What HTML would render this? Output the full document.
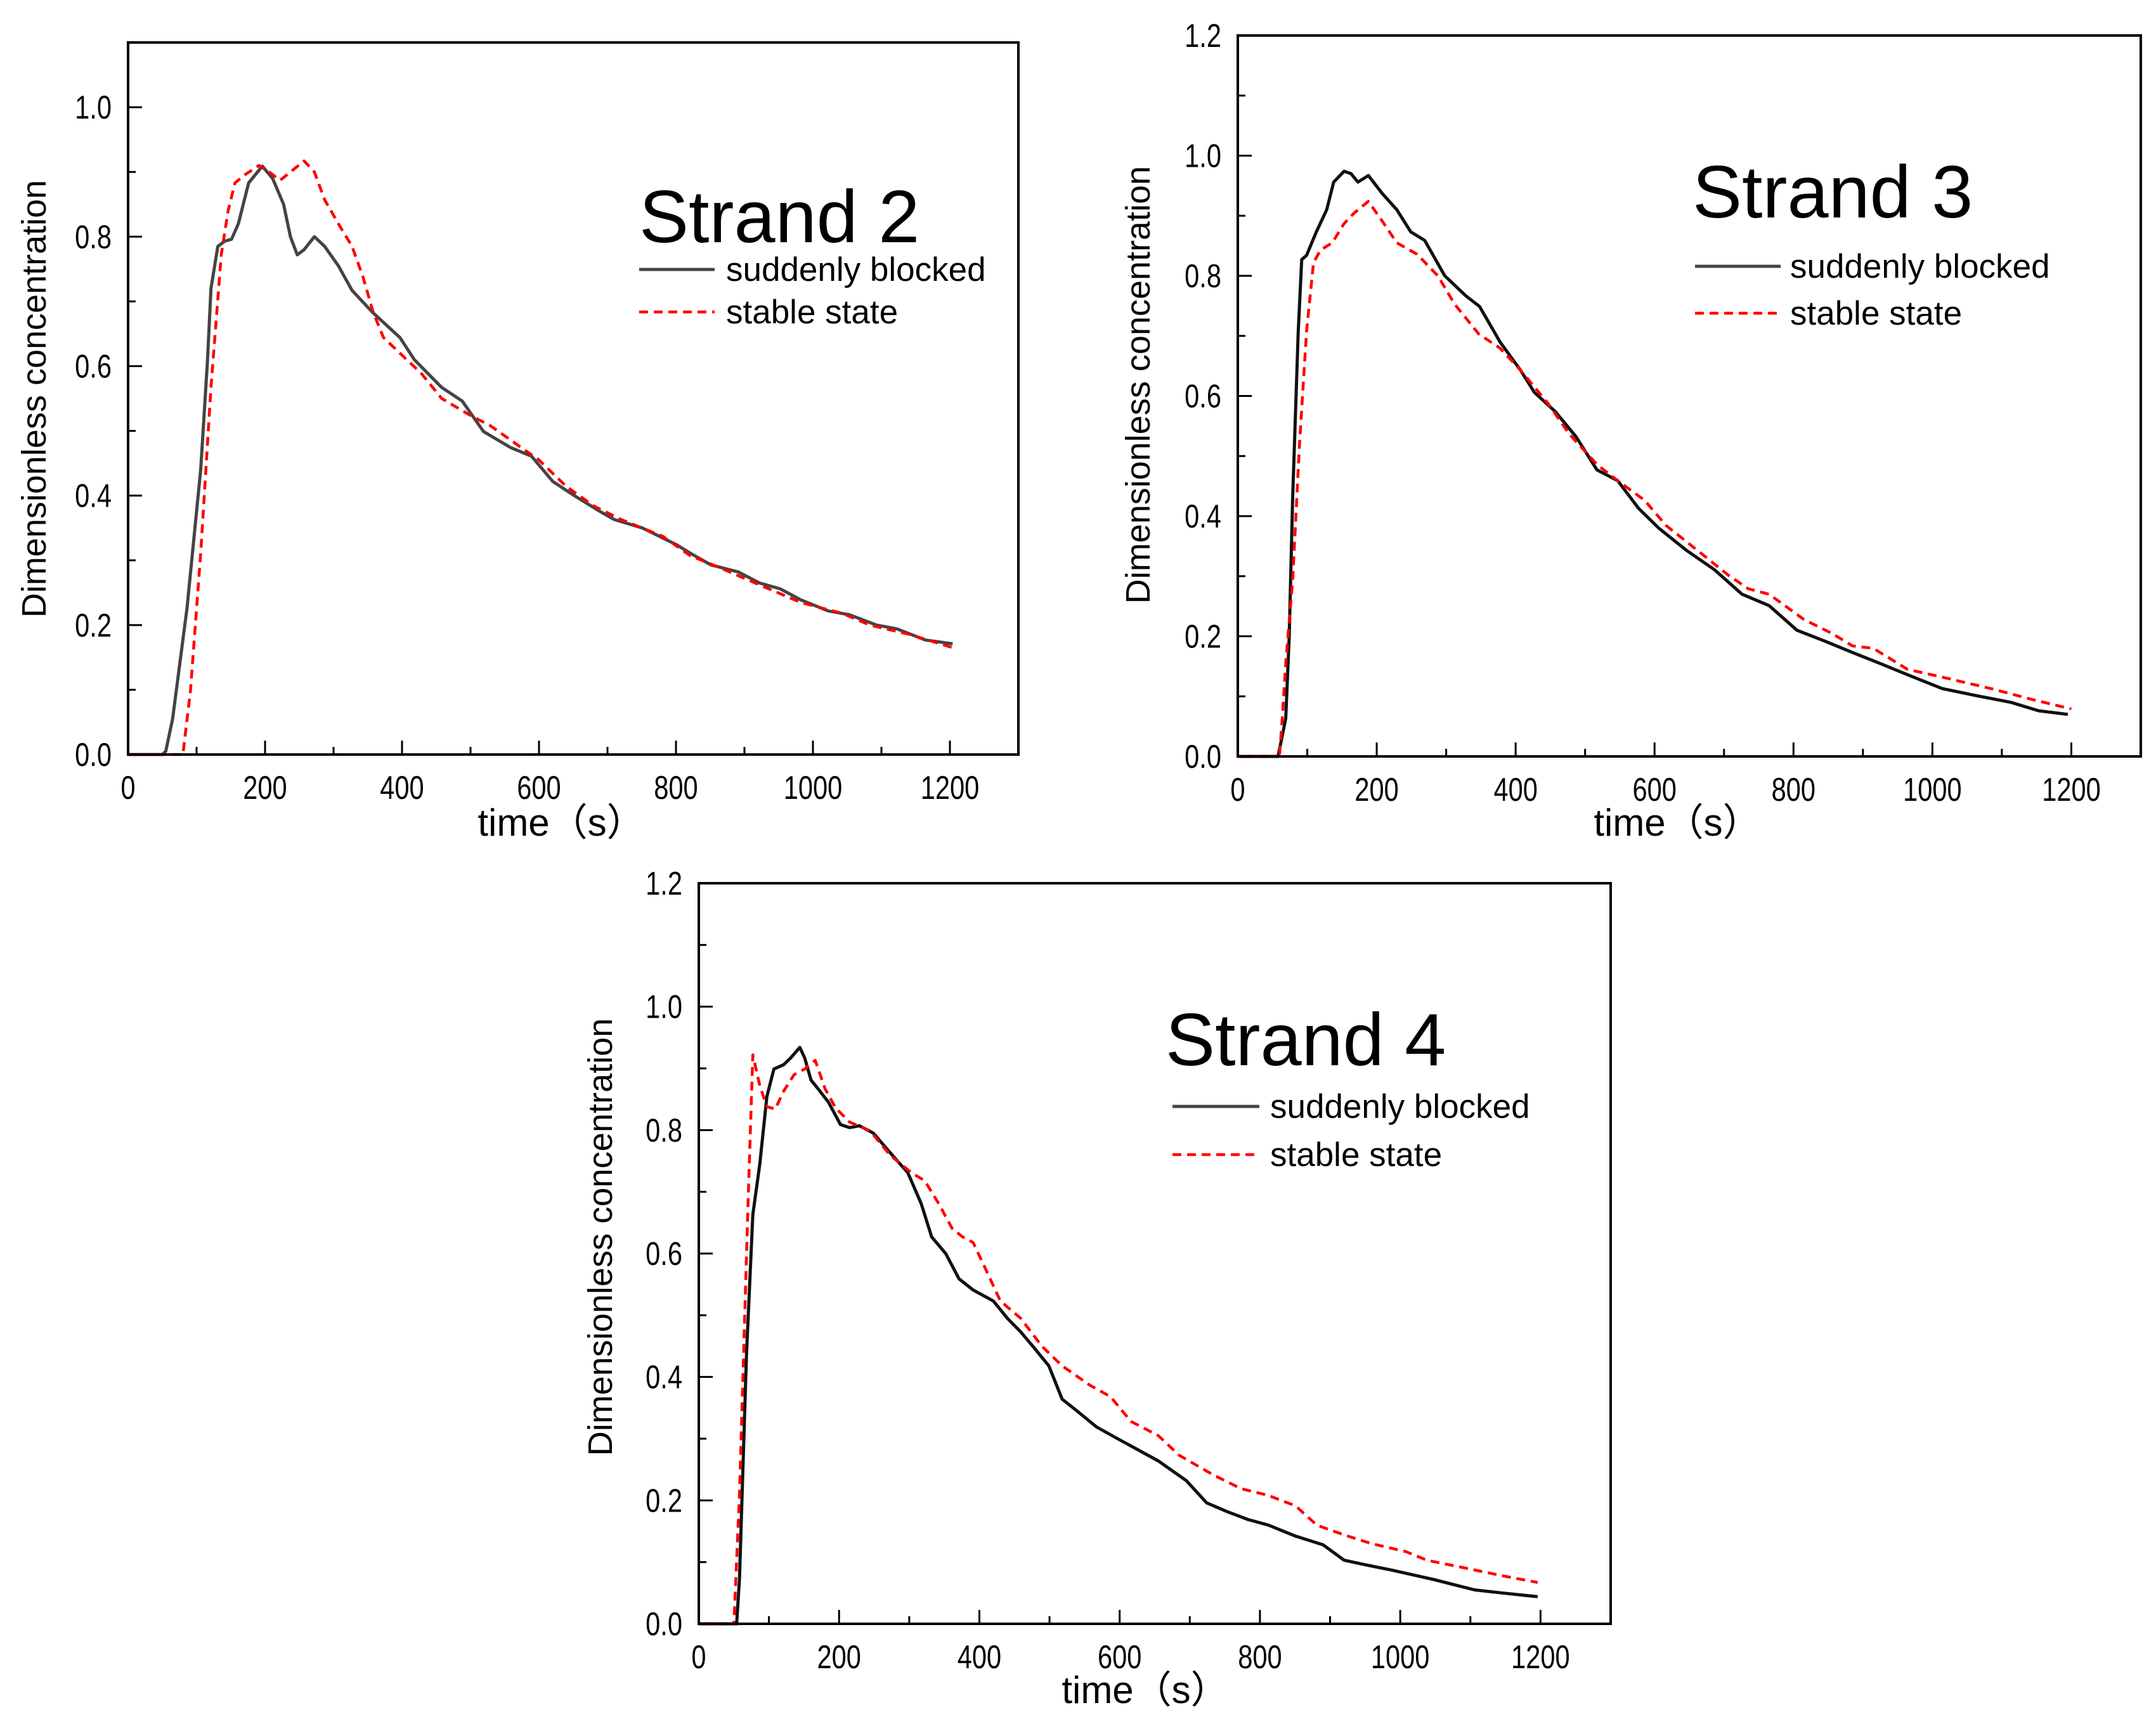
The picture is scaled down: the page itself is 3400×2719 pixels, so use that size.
<!DOCTYPE html>
<html><head><meta charset="utf-8"><style>
html,body{margin:0;padding:0;background:#fff;}
svg{display:block;font-family:"Liberation Sans","Noto Sans CJK SC",sans-serif;}
</style></head><body>
<svg id="fig" width="3400" height="2719" viewBox="0 0 3400 2719" xmlns="http://www.w3.org/2000/svg"></svg>
<script>
// ---------- data ----------
const s2BlockedT=[0,50,55,65,86,106,116,121,131,141,151,161,176,196,211,227,237,247,257,272,287,307,327,357,397,418,458,488,519,559,589,620,650,690,710,751,801,821,851,891,922,952,982,1022,1053,1093,1123,1164,1204];
const s2BlockedV=[0,0,0.005,0.055,0.226,0.44,0.61,0.72,0.785,0.793,0.796,0.82,0.883,0.909,0.89,0.85,0.80,0.772,0.78,0.80,0.785,0.755,0.717,0.683,0.644,0.61,0.567,0.546,0.499,0.474,0.461,0.422,0.401,0.375,0.363,0.35,0.324,0.311,0.293,0.282,0.265,0.256,0.239,0.222,0.216,0.20,0.194,0.177,0.171];
const s2StableT=[0,80,91,106,121,136,146,156,171,191,206,222,237,257,272,287,307,327,343,358,373,398,428,458,498,529,569,599,640,680,720,781,821,861,922,982,1043,1083,1143,1204];
const s2StableV=[0,0,0.098,0.311,0.567,0.772,0.84,0.883,0.896,0.91,0.90,0.887,0.90,0.917,0.90,0.857,0.82,0.785,0.738,0.683,0.644,0.619,0.589,0.55,0.525,0.508,0.478,0.456,0.414,0.384,0.363,0.337,0.307,0.29,0.262,0.235,0.218,0.20,0.185,0.165];

const s3BlockedT=[0,58,69,74,79,87,92,99,113,128,138,153,163,173,188,208,229,249,269,298,328,348,378,407,427,457,487,517,547,577,606,646,686,726,765,805,845,885,924,964,1014,1064,1113,1153,1195];
const s3BlockedV=[0,0,0.063,0.2,0.43,0.707,0.827,0.834,0.873,0.91,0.956,0.974,0.97,0.956,0.967,0.937,0.91,0.873,0.859,0.8,0.767,0.749,0.689,0.643,0.606,0.574,0.532,0.477,0.459,0.413,0.38,0.343,0.311,0.27,0.251,0.21,0.192,0.173,0.155,0.136,0.113,0.101,0.09,0.076,0.07];
const s3StableT=[0,60,64,69,79,89,99,109,119,136,153,168,188,208,229,258,288,312,347,377,407,447,477,517,547,586,616,666,706,735,765,815,855,885,915,964,1014,1084,1143,1200];
const s3StableV=[0,0,0.063,0.155,0.293,0.523,0.707,0.822,0.843,0.855,0.887,0.905,0.924,0.891,0.855,0.836,0.8,0.753,0.703,0.68,0.643,0.587,0.537,0.486,0.459,0.426,0.385,0.339,0.302,0.279,0.27,0.228,0.205,0.184,0.18,0.145,0.132,0.113,0.095,0.079];

const s4BlockedT=[0,54,58,63,68,77,87,97,107,121,131,144,151,160,170,185,202,215,229,249,273,298,317,332,352,371,391,420,440,459,479,499,518,538,567,597,626,655,695,724,753,783,812,851,890,920,949,988,1047,1106,1145,1196];
const s4BlockedV=[0,0,0.074,0.255,0.436,0.663,0.745,0.854,0.899,0.906,0.917,0.934,0.917,0.881,0.867,0.845,0.809,0.804,0.807,0.795,0.763,0.731,0.681,0.627,0.6,0.559,0.541,0.523,0.495,0.473,0.446,0.418,0.364,0.346,0.319,0.30,0.282,0.264,0.232,0.196,0.182,0.169,0.16,0.142,0.128,0.103,0.096,0.087,0.072,0.055,0.05,0.044];
const s4StableT=[0,50,58,65,71,77,87,97,109,121,136,151,166,180,195,215,244,273,303,322,342,361,376,391,406,430,459,489,518,557,587,616,655,685,734,773,812,851,881,920,959,1008,1038,1086,1145,1196];
const s4StableV=[0,0,0.21,0.482,0.709,0.922,0.872,0.838,0.834,0.863,0.89,0.899,0.913,0.867,0.836,0.813,0.799,0.759,0.731,0.718,0.681,0.641,0.627,0.618,0.582,0.523,0.495,0.45,0.418,0.387,0.368,0.328,0.305,0.273,0.241,0.219,0.208,0.191,0.16,0.144,0.13,0.117,0.103,0.092,0.078,0.067];

const xTicks=[0,200,400,600,800,1000,1200];
const xTickLabels=["0","200","400","600","800","1000","1200"];
const yTicks1=[0,0.2,0.4,0.6,0.8,1.0];
const yTicks2=[0,0.2,0.4,0.6,0.8,1.0,1.2];
const yTickLabels1=["0.0","0.2","0.4","0.6","0.8","1.0"];
const yTickLabels2=["0.0","0.2","0.4","0.6","0.8","1.0","1.2"];

// ---------- drawing ----------
const NS="http://www.w3.org/2000/svg";
const svg=document.getElementById('fig');
function mk(tag,attrs,parent){const e=document.createElementNS(NS,tag);for(const k in attrs)e.setAttribute(k,attrs[k]);(parent||svg).appendChild(e);return e;}

const panels=[
 {id:'strand-2',L:202,R:1606,T:67,B:1190,xmax:1300,ymax:1.1,yt:yTicks1,yl:yTickLabels1,
  title:'Strand 2',tx:1008,ty:382,lg1:425,lg2:492,lx1:1008,lx2:1127,ltx:1145,
  yTitle:[54,629],xTitle:[885,1318],bc:'#444',
  series:[[s2BlockedT,s2BlockedV,'blocked'],[s2StableT,s2StableV,'stable']]},
 {id:'strand-3',L:1952,R:3376,T:56,B:1193,xmax:1300,ymax:1.2,yt:yTicks2,yl:yTickLabels2,
  title:'Strand 3',tx:2669,ty:343,lg1:420,lg2:494,lx1:2673,lx2:2808,ltx:2823,
  yTitle:[1795,607],xTitle:[2645,1318],bc:'#111',
  series:[[s3BlockedT,s3BlockedV,'blocked'],[s3StableT,s3StableV,'stable']]},
 {id:'strand-4',L:1102,R:2540,T:1393,B:2561,xmax:1300,ymax:1.2,yt:yTicks2,yl:yTickLabels2,
  title:'Strand 4',tx:1838,ty:1680,lg1:1745,lg2:1821,lx1:1849,lx2:1986,ltx:2003,
  yTitle:[947,1951],xTitle:[1806,2686],bc:'#111',
  series:[[s4BlockedT,s4BlockedV,'blocked'],[s4StableT,s4StableV,'stable']]}
];

panels.forEach(p=>{
  const g=mk('g',{});
  
  
  const X=t=>p.L+(t/p.xmax)*(p.R-p.L);
  const Y=v=>p.B-(v/p.ymax)*(p.B-p.T);
  for(let t=100;t<p.xmax;t+=200){const e=mk('line',{x1:X(t),x2:X(t),y1:p.B,y2:p.B-12,stroke:'#000','stroke-width':3},g);
    }
  for(let v=0.1;v<p.ymax-0.01;v+=0.2){const e=mk('line',{x1:p.L,x2:p.L+12,y1:Y(v),y2:Y(v),stroke:'#000','stroke-width':3},g);
    }
  xTicks.forEach((t,i)=>{
    const e=mk('line',{x1:X(t),x2:X(t),y1:p.B,y2:p.B-22,stroke:'#000','stroke-width':3},g);
    
    const l=mk('text',{x:0,y:0,'font-size':52,'text-anchor':'middle',fill:'#000',
      transform:`translate(${X(t)} ${p.B+70}) scale(0.8 1)`},g);
    l.textContent=xTickLabels[i];
    
  });
  p.yt.forEach((v,i)=>{
    const e=mk('line',{x1:p.L,x2:p.L+22,y1:Y(v),y2:Y(v),stroke:'#000','stroke-width':3},g);
    
    const l=mk('text',{x:0,y:0,'font-size':52,'text-anchor':'end',fill:'#000',
      transform:`translate(${p.L-26} ${Y(v)+18}) scale(0.8 1)`},g);
    l.textContent=p.yl[i];
    
  });
  p.series.forEach(s=>{
    const pts=s[0].map((t,i)=>X(t).toFixed(1)+','+Y(s[1][i]).toFixed(1)).join(' ');
    const isB=s[2]==='blocked';
    const pl=mk('polyline',{points:pts,fill:'none',stroke:isB?p.bc:'#f00','stroke-width':isB?5:4.5,
      'stroke-linejoin':'round','stroke-dasharray':isB?'none':'14 9'},g);
    
    
  });
  const fr=mk('rect',{x:p.L,y:p.T,width:p.R-p.L,height:p.B-p.T,fill:'none',stroke:'#000','stroke-width':4},g);
  
  const ti=mk('text',{x:p.tx,y:p.ty,'font-size':117,fill:'#000'},g);
  ti.textContent=p.title;
  
  const lg=mk('g',{},g);
  
  const l1=mk('line',{x1:p.lx1,x2:p.lx2,y1:p.lg1,y2:p.lg1,stroke:'#444','stroke-width':5},lg);
  
  const t1=mk('text',{x:p.ltx,y:p.lg1+18,'font-size':53,fill:'#000'},lg);t1.textContent='suddenly blocked';
  
  const l2=mk('line',{x1:p.lx1,x2:p.lx2,y1:p.lg2,y2:p.lg2,stroke:'#f00','stroke-width':4.5,'stroke-dasharray':'14 9'},lg);
  
  const t2=mk('text',{x:p.ltx,y:p.lg2+18,'font-size':53,fill:'#000'},lg);t2.textContent='stable state';
  
  const yt=mk('text',{x:p.yTitle[0],y:p.yTitle[1],'font-size':54,'text-anchor':'middle',fill:'#000',
    transform:`rotate(-90 ${p.yTitle[0]} ${p.yTitle[1]})`,dy:18},g);
  yt.textContent='Dimensionless concentration';
  
  const xt=mk('text',{x:p.xTitle[0],y:p.xTitle[1],'font-size':60,'text-anchor':'middle',fill:'#000'},g);
  xt.textContent='time（s）';
  
});
</script>
</body></html>
